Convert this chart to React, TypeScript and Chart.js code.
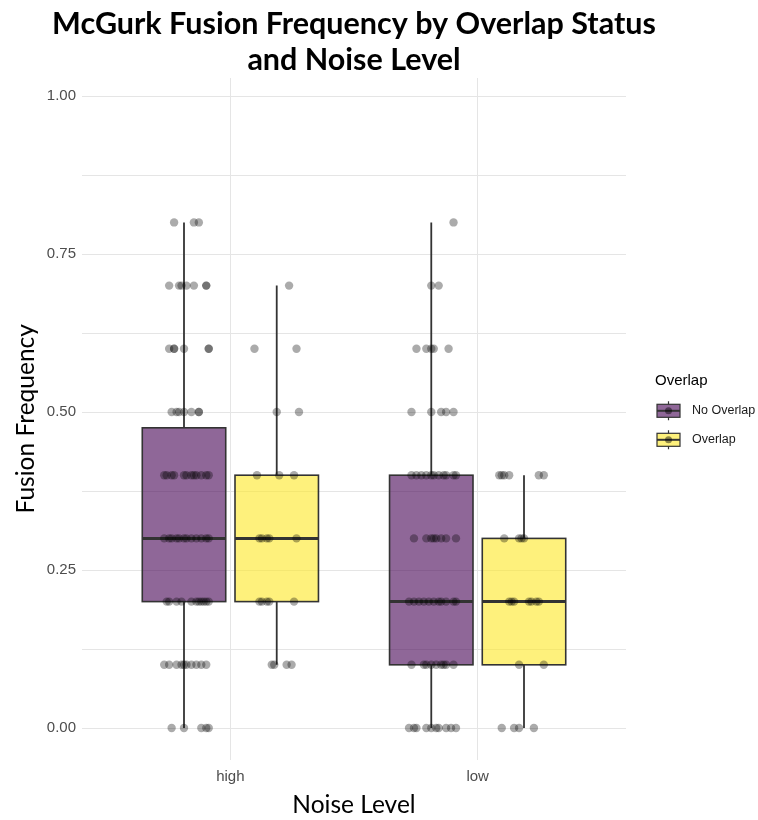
import React, { useEffect, useRef } from 'react';
import { Chart, registerables } from 'chart.js';

Chart.register(...registerables);

// Categories
const noiseLevels = ['high', 'low'];
const overlapLabels = ['No Overlap', 'Overlap'];
const overlapFills = ['rgba(68, 1, 84, 0.6)', 'rgba(253, 231, 37, 0.6)'];

// Y axis ticks (labelled majors and unlabelled minors)
const yMajorTicks = [0, 0.25, 0.5, 0.75, 1];
const yMinorTicks = [0.125, 0.375, 0.625, 0.875];

// Box statistics, one entry per noise level (high, low)
const noOverlapWhiskerLow = [0.0, 0.0];
const noOverlapQ1 = [0.2, 0.1];
const noOverlapMedian = [0.3, 0.2];
const noOverlapQ3 = [0.475, 0.4];
const noOverlapWhiskerHigh = [0.8, 0.8];

const overlapWhiskerLow = [0.1, 0.0];
const overlapQ1 = [0.2, 0.1];
const overlapMedian = [0.3, 0.2];
const overlapQ3 = [0.4, 0.3];
const overlapWhiskerHigh = [0.7, 0.4];

// Individual observations: [fusion frequency, horizontal jitter offsets (category units)]
type Row = [number, number[]];

const highNoOverlap: Row[] = [
  [0.8, [-0.04, 0.04, 0.06]],
  [0.7, [-0.06, -0.02, -0.01, 0.01, 0.04, 0.09, 0.09]],
  [0.6, [-0.06, -0.04, -0.04, 0.0, 0.1, 0.1]],
  [0.5, [-0.05, -0.03, -0.02, 0.0, 0.03, 0.06, 0.06]],
  [0.4, [-0.08, -0.07, -0.05, -0.04, 0.0, 0.01, 0.03, 0.04, 0.05, 0.07, 0.09, 0.1]],
  [0.3, [-0.08, -0.06, -0.05, -0.03, -0.02, 0.0, 0.01, 0.03, 0.05, 0.07, 0.09, 0.1]],
  [0.2, [-0.07, -0.06, -0.03, -0.01, 0.03, 0.05, 0.06, 0.07, 0.08, 0.09, 0.1]],
  [0.1, [-0.08, -0.06, -0.03, -0.01, 0.0, 0.01, 0.03, 0.05, 0.07, 0.09]],
  [0.0, [-0.05, 0.0, 0.07, 0.09, 0.1]],
];

const highOverlap: Row[] = [
  [0.7, [0.05]],
  [0.6, [-0.09, 0.08]],
  [0.5, [0.0, 0.09]],
  [0.4, [-0.08, 0.01, 0.07]],
  [0.3, [-0.07, -0.06, -0.04, -0.03, 0.08]],
  [0.2, [-0.07, -0.06, -0.04, -0.03, 0.07]],
  [0.1, [-0.02, -0.01, 0.04, 0.06]],
];

const lowNoOverlap: Row[] = [
  [0.8, [0.09]],
  [0.7, [0.0, 0.03]],
  [0.6, [-0.06, -0.02, 0.0, 0.01, 0.07]],
  [0.5, [-0.08, 0.0, 0.04, 0.06, 0.09]],
  [0.4, [-0.08, -0.06, -0.04, -0.02, 0.0, 0.01, 0.03, 0.05, 0.06, 0.09, 0.1]],
  [0.3, [-0.07, -0.02, 0.0, 0.01, 0.02, 0.04, 0.06, 0.1]],
  [0.2, [-0.09, -0.07, -0.05, -0.03, -0.01, 0.01, 0.03, 0.04, 0.06, 0.09, 0.1]],
  [0.1, [-0.08, -0.03, -0.02, 0.0, 0.02, 0.04, 0.05, 0.06, 0.09]],
  [0.0, [-0.09, -0.07, -0.06, -0.02, 0.0, 0.02, 0.03, 0.06, 0.08, 0.1]],
];

const lowOverlap: Row[] = [
  [0.4, [-0.1, -0.09, -0.08, -0.06, 0.06, 0.08]],
  [0.3, [-0.08, -0.02, -0.01, 0.0]],
  [0.2, [-0.06, -0.05, -0.04, 0.02, 0.03, 0.05, 0.06]],
  [0.1, [-0.02, 0.08]],
  [0.0, [-0.09, -0.04, -0.02, 0.04]],
];

// Dodge geometry in category units
const DODGE = [-0.1875, 0.1875];
const BOX_WIDTH = 0.3375;

const boxStats = [
  { lo: noOverlapWhiskerLow, q1: noOverlapQ1, med: noOverlapMedian, q3: noOverlapQ3, hi: noOverlapWhiskerHigh },
  { lo: overlapWhiskerLow, q1: overlapQ1, med: overlapMedian, q3: overlapQ3, hi: overlapWhiskerHigh },
];

const toPoints = (rows: Row[], levelIndex: number, groupIndex: number) =>
  rows.flatMap(([v, jit]) => jit.map((j) => ({ x: levelIndex + 1 + DODGE[groupIndex] + j, y: v })));

const OUTLINE = '#333333';

// The title sits centred over the panel but may run wider than it
const titleSpreadPlugin = {
  id: 'titleSpread',
  afterLayout(chart: any) {
    const t = chart.titleBlock;
    if (!t) return;
    const extra = 60;
    t.left -= extra;
    t.right += extra;
    t.width += extra * 2;
  },
};

const boxPlotPlugin = {
  id: 'boxPlots',
  beforeDatasetsDraw(chart: any) {
    const { ctx, scales } = chart;
    const xs = scales.x;
    const ys = scales.y;
    ctx.save();
    boxStats.forEach((s, gi) => {
      noiseLevels.forEach((_, ni) => {
        const c = ni + 1 + DODGE[gi];
        const left = xs.getPixelForValue(c - BOX_WIDTH / 2);
        const right = xs.getPixelForValue(c + BOX_WIDTH / 2);
        const mid = xs.getPixelForValue(c);
        const yLo = ys.getPixelForValue(s.lo[ni]);
        const yQ1 = ys.getPixelForValue(s.q1[ni]);
        const yMed = ys.getPixelForValue(s.med[ni]);
        const yQ3 = ys.getPixelForValue(s.q3[ni]);
        const yHi = ys.getPixelForValue(s.hi[ni]);

        // whiskers
        ctx.strokeStyle = OUTLINE;
        ctx.lineWidth = 1.8;
        ctx.beginPath();
        ctx.moveTo(mid, yQ3);
        ctx.lineTo(mid, yHi);
        ctx.moveTo(mid, yQ1);
        ctx.lineTo(mid, yLo);
        ctx.stroke();

        // box
        ctx.fillStyle = overlapFills[gi];
        ctx.fillRect(left, yQ3, right - left, yQ1 - yQ3);
        ctx.lineWidth = 1.6;
        ctx.strokeRect(left, yQ3, right - left, yQ1 - yQ3);

        // median
        ctx.lineWidth = 3;
        ctx.beginPath();
        ctx.moveTo(left, yMed);
        ctx.lineTo(right, yMed);
        ctx.stroke();
      });
    });
    ctx.restore();
  },
};

const legendPlugin = {
  id: 'overlapLegend',
  afterDraw(chart: any) {
    const { ctx, chartArea } = chart;
    const x0 = chartArea.right + 31;
    const midY = (chartArea.top + chartArea.bottom) / 2;
    ctx.save();
    ctx.textBaseline = 'middle';
    ctx.textAlign = 'left';
    ctx.fillStyle = '#000000';
    ctx.font = '15px "Liberation Sans", Arial, sans-serif';
    ctx.fillText('Overlap', x0 - 2, midY - 38);

    overlapLabels.forEach((label, i) => {
      const cy = midY - 8 + i * 29;
      const kl = x0;
      const kw = 23;
      const cx = kl + kw / 2;
      ctx.strokeStyle = OUTLINE;
      ctx.lineWidth = 1.2;
      ctx.beginPath();
      ctx.moveTo(cx, cy - 9.5);
      ctx.lineTo(cx, cy - 6.5);
      ctx.moveTo(cx, cy + 6.5);
      ctx.lineTo(cx, cy + 9.5);
      ctx.stroke();
      ctx.fillStyle = overlapFills[i];
      ctx.fillRect(kl, cy - 6.5, kw, 13);
      ctx.strokeRect(kl, cy - 6.5, kw, 13);
      ctx.lineWidth = 2;
      ctx.beginPath();
      ctx.moveTo(kl, cy);
      ctx.lineTo(kl + kw, cy);
      ctx.stroke();
      ctx.fillStyle = 'rgba(0,0,0,0.45)';
      ctx.beginPath();
      ctx.arc(cx, cy, 3.5, 0, Math.PI * 2);
      ctx.fill();

      ctx.fillStyle = '#1a1a1a';
      ctx.font = '12.5px "Liberation Sans", Arial, sans-serif';
      ctx.fillText(label, x0 + 35, cy);
    });
    ctx.restore();
  },
};

export default function App() {
  const canvasRef = useRef<HTMLCanvasElement | null>(null);

  useEffect(() => {
    if (!canvasRef.current) return;
    const pointStyle = {
      type: 'scatter' as const,
      pointRadius: 4.2,
      pointHoverRadius: 4.2,
      pointBackgroundColor: 'rgba(0,0,0,0.33)',
      pointBorderWidth: 0,
      borderWidth: 0,
    };
    const tickFont = { family: '"Liberation Sans", Arial, sans-serif', size: 15 };
    const gridColor = '#e5e5e5';

    const chart = new Chart(canvasRef.current, {
      type: 'scatter',
      data: {
        datasets: [
          { ...pointStyle, label: 'high No Overlap', data: toPoints(highNoOverlap, 0, 0) },
          { ...pointStyle, label: 'high Overlap', data: toPoints(highOverlap, 0, 1) },
          { ...pointStyle, label: 'low No Overlap', data: toPoints(lowNoOverlap, 1, 0) },
          { ...pointStyle, label: 'low Overlap', data: toPoints(lowOverlap, 1, 1) },
        ],
      },
      options: {
        responsive: false,
        animation: false,
        devicePixelRatio: 1,
        layout: { padding: { left: 0, right: 132, top: 0, bottom: 0 } },
        plugins: {
          legend: { display: false },
          tooltip: { enabled: false },
          title: {
            display: true,
            fullSize: false,
            text: ['McGurk Fusion Frequency by Overlap Status', 'and Noise Level'],
            color: '#000000',
            font: { family: 'Lato', size: 30.5, weight: 'bold', lineHeight: 36 / 30.5 },
            padding: { top: 6, bottom: 0 },
          },
        },
        scales: {
          x: {
            type: 'linear',
            min: 0.4,
            max: 2.6,
            afterBuildTicks: (s: any) => {
              s.ticks = noiseLevels.map((_, i) => ({ value: i + 1 }));
            },
            afterFit: (s: any) => {
              s.height = 60.4;
            },
            ticks: {
              autoSkip: false,
              maxRotation: 0,
              padding: 8,
              color: '#4d4d4d',
              font: tickFont,
              callback: (v: any) => noiseLevels[Math.round(Number(v)) - 1] ?? '',
            },
            grid: { color: gridColor, lineWidth: 1, drawTicks: false },
            border: { display: false },
            title: {
              display: true,
              text: 'Noise Level',
              color: '#000000',
              font: { family: 'Lato', size: 24.5 },
              padding: { top: 0, bottom: 0 },
            },
          },
          y: {
            type: 'linear',
            min: -0.05,
            max: 1.0285,
            afterBuildTicks: (s: any) => {
              s.ticks = [...yMajorTicks, ...yMinorTicks]
                .sort((a, b) => a - b)
                .map((v) => ({ value: v }));
            },
            afterFit: (s: any) => {
              s.width = 82;
            },
            ticks: {
              padding: 6,
              color: '#4d4d4d',
              font: tickFont,
              callback: (v: any) => {
                const n = Number(v);
                return yMajorTicks.some((t) => Math.abs(t - n) < 1e-9) ? n.toFixed(2) : '';
              },
            },
            grid: { color: gridColor, lineWidth: 1, drawTicks: false },
            border: { display: false },
            title: {
              display: true,
              text: 'Fusion Frequency',
              color: '#000000',
              font: { family: 'Lato', size: 24.5 },
              padding: { top: 11, bottom: 0 },
            },
          },
        },
      },
      plugins: [titleSpreadPlugin, boxPlotPlugin, legendPlugin],
    });
    return () => chart.destroy();
  }, []);

  return (
    <div style={{ position: 'fixed', left: 0, top: 0, width: 758, height: 820, background: '#ffffff' }}>
      <canvas ref={canvasRef} width={758} height={820} style={{ display: 'block' }} />
    </div>
  );
}
